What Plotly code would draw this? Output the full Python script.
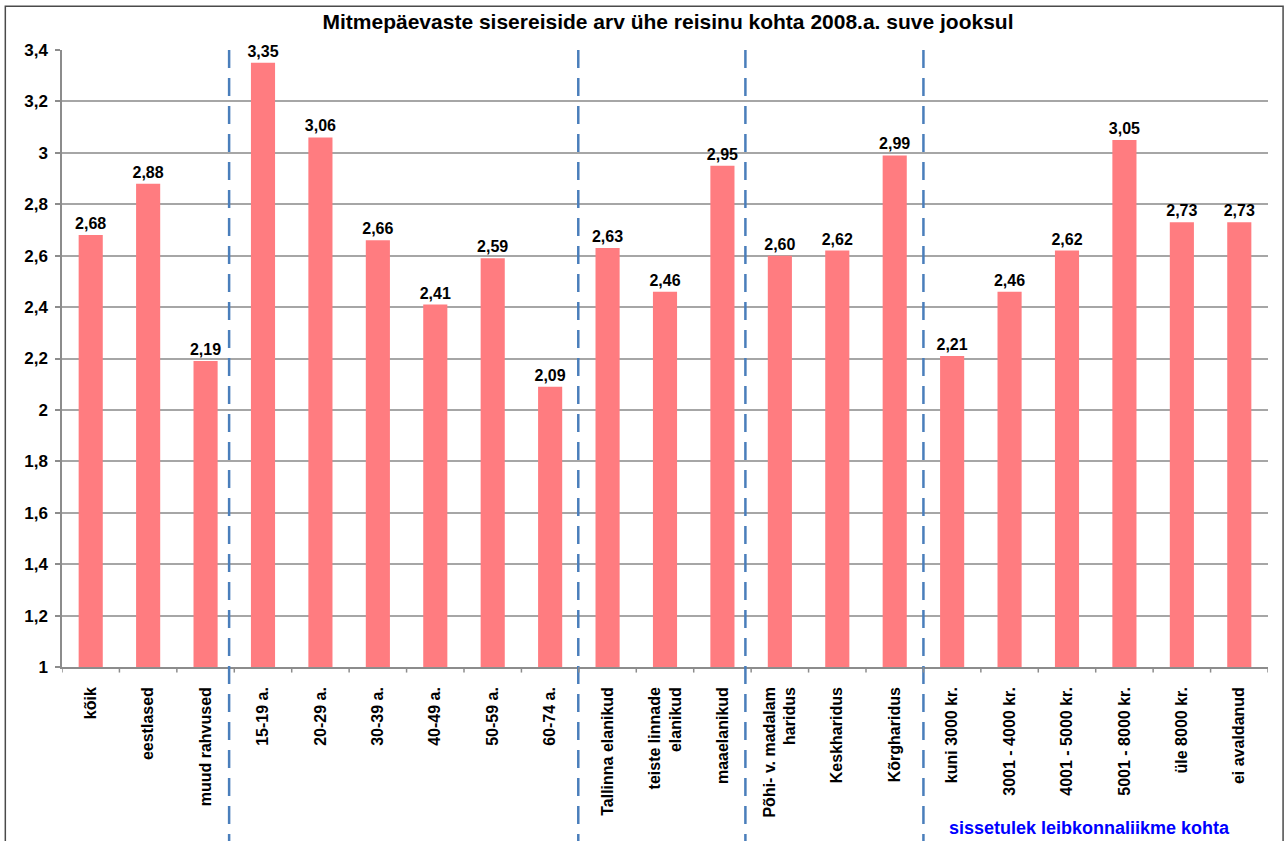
import plotly.graph_objects as go

categories = ["kõik", "eestlased", "muud rahvused", "15-19 a.", "20-29 a.", "30-39 a.",
              "40-49 a.", "50-59 a.", "60-74 a.", "Tallinna elanikud",
              "teiste linnade<br>elanikud", "maaelanikud", "Põhi- v. madalam<br>haridus",
              "Keskharidus", "Kõrgharidus", "kuni 3000 kr.", "3001 - 4000 kr.",
              "4001 - 5000 kr.", "5001 - 8000 kr.", "üle 8000 kr.", "ei avaldanud"]
values = [2.68, 2.88, 2.19, 3.35, 3.06, 2.66, 2.41, 2.59, 2.09, 2.63, 2.46, 2.95,
          2.60, 2.62, 2.99, 2.21, 2.46, 2.62, 3.05, 2.73, 2.73]
group_breaks = [2.41, 8.49, 11.4, 14.5]
y_ticks = [1, 1.2, 1.4, 1.6, 1.8, 2, 2.2, 2.4, 2.6, 2.8, 3, 3.2, 3.4]
title = "Mitmepäevaste sisereiside arv ühe reisinu kohta 2008.a. suve jooksul"
note = "sissetulek leibkonnaliikme kohta"

font = "Liberation Sans, Arial, sans-serif"
x_idx = list(range(len(categories)))

fig = go.Figure(go.Bar(
    x=x_idx, y=values,
    marker=dict(color="#FF7C80", line=dict(width=0)),
    texttemplate="<b>%{y:.2f}</b>", textposition="outside",
    textfont=dict(family=font, size=16, color="black"),
    constraintext="none", cliponaxis=False,
    width=0.42,
))

shapes = []
for b in group_breaks:
    shapes.append(dict(type="line", xref="x", yref="paper", x0=b, x1=b, y0=-0.3, y1=1,
                       line=dict(color="#4A7EBB", width=2.5, dash="18px,10px"), layer="above"))
# outer chart border
shapes.append(dict(type="rect", xref="paper", yref="paper", x0=-0.047, x1=1.0125, y0=-0.35, y1=1.071,
                   line=dict(color="#4a4a4a", width=1.5), fillcolor="rgba(0,0,0,0)"))

fig.update_layout(
    width=1287, height=841,
    margin=dict(l=62, r=19, t=50, b=174),
    paper_bgcolor="white", plot_bgcolor="white",
    separators=", ",
    showlegend=False,
    title=dict(text="<b>" + title + "</b>", x=668 / 1287, xref="container", xanchor="center",
               y=1 - 22 / 841, yref="container", yanchor="middle",
               font=dict(family=font, size=21, color="black")),
    shapes=shapes,
    annotations=[dict(text="<b>" + note + "</b>", xref="x", yref="paper", x=17.4, y=-0.261,
                      showarrow=False, xanchor="center", yanchor="middle",
                      font=dict(family=font, size=18, color="#0000FF"))],
    font=dict(family=font),
)
fig.update_xaxes(
    tickmode="array", tickvals=x_idx, ticktext=["<b>" + c + "</b>" for c in categories],
    tickangle=-90, tickfont=dict(family=font, size=16, color="black"),
    range=[-0.5, len(categories) - 0.5],
    showline=True, linecolor="#8C8C8C", linewidth=1.5,
    showgrid=False, ticks="", zeroline=False, ticklabelstandoff=12,
)
fig.update_yaxes(
    range=[1, 3.4], tickmode="array", tickvals=y_ticks,
    ticktext=["<b>" + (str(t).replace(".", ",")) + "</b>" for t in y_ticks],
    tickfont=dict(family=font, size=17, color="black"),
    showgrid=True, gridcolor="#A6A6A6", gridwidth=1.5,
    showline=True, linecolor="#8C8C8C", linewidth=1.5,
    ticks="outside", ticklen=5, tickcolor="#8C8C8C", tickwidth=1.5,
    zeroline=False, ticklabelstandoff=4,
)
# boundary tick marks on x axis
for k in range(len(categories) + 1):
    fig.add_shape(type="line", xref="x", yref="paper", x0=k - 0.5, x1=k - 0.5, y0=0, y1=-0.009,
                  line=dict(color="#8C8C8C", width=1.5))

fig.write_html("out.html", config={"displayModeBar": False},
               post_script="document.body.style.margin='0';")
